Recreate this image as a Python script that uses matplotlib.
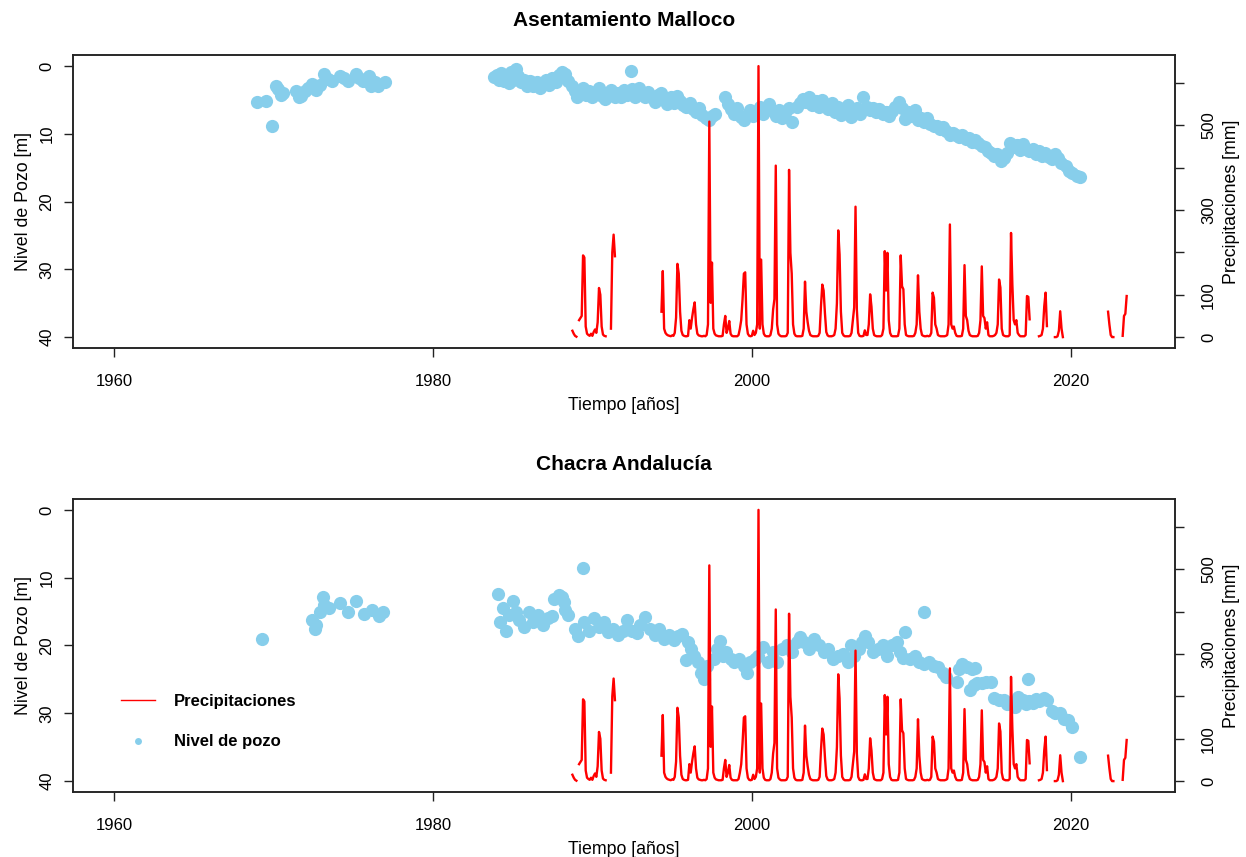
import numpy as np
import matplotlib
matplotlib.use("Agg")
import matplotlib.pyplot as plt
from matplotlib.lines import Line2D

plt.rcParams['font.family'] = ['Liberation Sans', 'DejaVu Sans']

nan = np.nan

# precipitacion mensual [mm], desde enero 1988 (12 valores por año)
precip_inicio = 1988
precip_mm = [
    nan, nan, nan, nan, nan, nan, nan, nan, nan, 15, 8, 3,        # 1988
    1, nan, 40, 45, 50, 193, 188, 25, 8, 5, 3, 8,                # 1989
    3, 12, 18, 10, 35, 116, 100, 25, 6, 3, 2, nan,               # 1990
    nan, nan, 20, 200, 242, 191, nan, nan, nan, nan, nan, nan,   # 1991
    nan, nan, nan, nan, nan, nan, nan, nan, nan, nan, nan, nan,  # 1992
    nan, nan, nan, nan, nan, nan, nan, nan, nan, nan, nan, nan,  # 1993
    nan, nan, nan, nan, 60, 156, 20, 10, 6, 4, 3, 2,             # 1994
    4, 3, 10, 46, 173, 150, 60, 15, 5, 3, 2, 2,                  # 1995
    3, 40, 20, 45, 66, 82, 30, 8, 4, 3, 2, 2,                    # 1996
    3, 2, 5, 30, 509, 81, 176, 20, 8, 4, 3, 2,                   # 1997
    2, 2, 3, 30, 50, 10, 20, 38, 8, 3, 2, 2,                     # 1998
    2, 2, 5, 20, 40, 89, 150, 153, 30, 8, 3, 2,                  # 1999
    3, 15, 5, 10, 30, 640, 20, 183, 30, 8, 3, 2,                 # 2000
    2, 2, 5, 20, 65, 90, 405, 30, 8, 4, 2, 2,                    # 2001
    2, 2, 3, 10, 395, 199, 150, 30, 8, 3, 2, 2,                  # 2002
    2, 2, 3, 20, 131, 60, 35, 15, 5, 3, 2, 2,                    # 2003
    2, 2, 3, 10, 73, 124, 110, 56, 12, 4, 2, 2,                  # 2004
    2, 3, 5, 20, 80, 252, 195, 60, 10, 4, 2, 2,                  # 2005
    2, 2, 3, 10, 40, 70, 308, 65, 10, 3, 2, 2,                   # 2006
    3, 16, 5, 5, 30, 101, 72, 20, 5, 3, 2, 2,                    # 2007
    2, 2, 5, 20, 203, 110, 199, 40, 10, 3, 2, 2,                 # 2008
    2, 2, 3, 20, 193, 120, 113, 30, 5, 3, 2, 2,                  # 2009
    2, 2, 3, 10, 30, 146, 60, 20, 5, 3, 2, 2,                    # 2010
    3, 2, 3, 10, 105, 93, 30, 20, 5, 3, 2, 2,                    # 2011
    2, 2, 3, 5, 30, 266, 30, 20, 25, 10, 3, 2,                   # 2012
    2, 2, 3, 20, 170, 50, 40, 15, 5, 3, 2, 2,                    # 2013
    2, 2, 3, 10, 40, 167, 50, 45, 20, 35, 5, 2,                  # 2014
    2, 2, 3, 5, 10, 30, 136, 117, 20, 5, 3, 2,                   # 2015
    2, 2, 5, 246, 124, 40, 30, 40, 10, 5, 2, 2,                  # 2016
    2, 2, 5, 97, 95, 42, nan, nan, nan, nan, nan, nan,           # 2017
    2, 3, 5, 20, 73, 105, 26, nan, nan, nan, nan, nan,           # 2018
    0, 0, 2, 15, 61, 20, 0, nan, nan, nan, nan, nan,             # 2019
    nan, nan, nan, nan, nan, nan, nan, nan, nan, nan, nan, nan,  # 2020
    nan, nan, nan, nan, nan, nan, nan, nan, nan, nan, nan, nan,  # 2021
    nan, nan, nan, nan, 60, 30, 5, 0, 0, nan, nan, nan,          # 2022
    nan, nan, nan, 3, 50, 55, 97, nan, nan, nan, nan, nan,       # 2023
]

# Asentamiento Malloco: fecha [años], nivel [m]
malloco_t = [1969.0, 1969.55, 1969.9, 1970.15, 1970.3, 1970.45, 1970.6,
             1971.45, 1971.6, 1971.75, 1972.0, 1972.2, 1972.45, 1972.7, 1972.9,
             1973.2, 1973.45, 1973.7, 1974.15, 1974.4, 1974.65, 1975.2, 1975.4,
             1975.6, 1976.0, 1976.1, 1976.35, 1976.55, 1976.97,
             1983.85, 1984.0, 1984.15, 1984.3, 1984.45, 1984.6, 1984.75, 1984.9,
             1985.05, 1985.2, 1985.35, 1985.5, 1985.7, 1985.9, 1986.1, 1986.3,
             1986.5, 1986.7, 1986.9, 1987.1, 1987.3, 1987.5, 1987.7, 1987.9,
             1988.1, 1988.3, 1988.5, 1988.7, 1988.9, 1989.05, 1989.2, 1989.4,
             1989.6, 1989.8, 1990.0, 1990.2, 1990.4, 1990.6, 1990.8, 1991.0,
             1991.2, 1991.4, 1991.6, 1991.8, 1992.0, 1992.2, 1992.4, 1992.5,
             1992.7, 1992.9, 1993.1, 1993.3, 1993.5, 1993.7, 1993.9, 1994.1,
             1994.3, 1994.5, 1994.7, 1994.9, 1995.1, 1995.3, 1995.5, 1995.7,
             1995.9, 1996.1, 1996.3, 1996.5, 1996.7, 1996.9, 1997.1, 1997.3,
             1997.5, 1997.7, 1998.3, 1998.5, 1998.7, 1998.9, 1999.1, 1999.3,
             1999.5, 1999.7, 1999.9, 2000.1, 2000.3, 2000.5, 2000.7, 2000.9,
             2001.1, 2001.3, 2001.5, 2001.7, 2001.9, 2002.1, 2002.3, 2002.5,
             2002.8, 2003.0, 2003.2, 2003.4, 2003.6, 2003.8, 2004.0, 2004.2,
             2004.4, 2004.6, 2004.8, 2005.0, 2005.2, 2005.4, 2005.6, 2005.8,
             2006.0, 2006.2, 2006.4, 2006.6, 2006.8, 2007.0, 2007.2, 2007.4,
             2007.6, 2007.8, 2008.0, 2008.2, 2008.4, 2008.6, 2008.8, 2009.0,
             2009.2, 2009.4, 2009.6, 2009.8, 2010.0, 2010.2, 2010.4, 2010.6,
             2010.8, 2011.0, 2011.2, 2011.4, 2011.6, 2011.8, 2012.0, 2012.2,
             2012.4, 2012.6, 2012.8, 2013.0, 2013.2, 2013.4, 2013.6, 2013.8,
             2014.0, 2014.2, 2014.4, 2014.6, 2014.8, 2015.0, 2015.2, 2015.4,
             2015.6, 2015.8, 2016.0, 2016.2, 2016.4, 2016.6, 2016.8, 2017.0,
             2017.2, 2017.4, 2017.6, 2017.8, 2018.0, 2018.2, 2018.4, 2018.6,
             2018.8, 2019.0, 2019.2, 2019.4, 2019.7, 2019.9, 2020.1, 2020.4,
             2020.6]
malloco_nivel = [5.3, 5.2, 8.9, 3.0, 3.4, 4.2, 3.9,
                 3.7, 4.6, 4.4, 3.6, 3.2, 2.6, 3.5, 2.8,
                 1.2, 1.9, 2.2, 1.5, 1.8, 2.2, 1.2, 1.7,
                 2.2, 1.5, 2.9, 2.4, 3.0, 2.3,
                 1.6, 1.3, 2.0, 1.0, 2.2, 1.5, 2.5, 0.9,
                 2.0, 0.4, 1.4, 2.4, 2.0, 2.9, 2.2, 3.0,
                 2.4, 3.3, 2.6, 2.0, 2.8, 1.8, 2.3, 1.3,
                 0.9, 1.2, 2.2, 2.9, 3.6, 4.5, 3.8, 3.3,
                 4.2, 3.6, 4.6, 3.8, 3.2, 4.4, 4.9, 4.0,
                 3.5, 4.6, 3.9, 4.5, 3.5, 4.2, 0.7, 3.4,
                 4.5, 3.2, 4.0, 4.6, 3.8, 4.5, 5.3, 4.3,
                 3.9, 5.0, 5.6, 4.6, 5.4, 4.4, 5.1, 5.8,
                 6.0, 5.4, 6.3, 6.8, 6.2, 7.2, 7.7, 7.9,
                 7.3, 7.0, 4.6, 5.6, 6.4, 7.0, 6.2, 7.5,
                 7.9, 7.2, 6.5, 7.4, 6.8, 6.0, 7.0, 6.2,
                 5.6, 6.6, 7.3, 6.5, 7.6, 6.9, 6.2, 8.3,
                 6.0, 5.5, 4.8, 5.3, 4.6, 5.8, 5.2, 6.0,
                 5.0, 5.7, 6.3, 5.5, 6.8, 6.0, 7.2, 6.5,
                 5.7, 7.5, 6.8, 6.2, 7.0, 4.5, 6.0, 6.5,
                 6.2, 6.8, 6.4, 7.0, 6.7, 7.3, 6.6, 6.0,
                 5.3, 6.2, 7.8, 6.8, 7.3, 6.5, 8.0, 7.6,
                 8.2, 7.7, 8.5, 8.8, 8.9, 9.3, 9.0, 9.6,
                 10.1, 9.8, 10.2, 10.5, 10.2, 10.8, 10.6, 11.2,
                 10.9, 11.4, 11.8, 12.0, 12.5, 12.8, 13.2, 13.0,
                 14.0, 13.5, 12.8, 11.3, 12.0, 11.6, 12.4, 11.5,
                 12.2, 12.6, 12.3, 12.9, 12.6, 13.2, 12.8, 13.4,
                 13.7, 12.9, 13.6, 14.3, 14.8, 15.5, 15.8, 16.2,
                 16.4]

# Chacra Andalucía: fecha [años], nivel [m]
andalucia_t = [1969.3,
               1972.4, 1972.6, 1972.7, 1972.9, 1973.1, 1973.2, 1973.5, 1974.15,
               1974.7, 1975.2, 1975.7, 1976.2, 1976.65, 1976.85,
               1984.07, 1984.2, 1984.4, 1984.6, 1984.8, 1985.0, 1985.2, 1985.4,
               1985.7, 1986.0, 1986.3, 1986.6, 1986.9, 1987.2, 1987.5, 1987.6,
               1987.9, 1988.1, 1988.2, 1988.3, 1988.5, 1988.9, 1989.1, 1989.4,
               1989.5, 1989.8, 1990.1, 1990.4, 1990.7, 1991.0, 1991.3, 1991.6,
               1991.9, 1992.2, 1992.5, 1992.8, 1993.0, 1993.3, 1993.6, 1993.9,
               1994.2, 1994.5, 1994.8, 1995.1, 1995.4, 1995.6, 1995.9, 1996.0,
               1996.2, 1996.4, 1996.6, 1996.8, 1997.0, 1997.2, 1997.6, 1997.8,
               1998.0, 1998.2, 1998.4, 1998.7, 1998.9, 1999.2, 1999.5, 1999.7,
               1999.9, 2000.2, 2000.4, 2000.7, 2001.0, 2001.3, 2001.6, 2001.9,
               2002.2, 2002.5, 2002.8, 2003.0, 2003.3, 2003.6, 2003.9, 2004.2,
               2004.5, 2004.8, 2005.1, 2005.4, 2005.7, 2006.0, 2006.2, 2006.4,
               2006.7, 2006.9, 2007.1, 2007.3, 2007.6, 2007.9, 2008.2, 2008.5,
               2008.8, 2009.1, 2009.3, 2009.5, 2009.6, 2009.9, 2010.2, 2010.5,
               2010.8, 2010.8, 2011.1, 2011.4, 2011.7, 2012.0, 2012.2, 2012.85,
               2013.0, 2013.2, 2013.5, 2013.7, 2013.8, 2013.9, 2014.0, 2014.1,
               2014.4, 2014.7, 2015.0, 2015.2, 2015.5, 2015.8, 2016.0, 2016.3,
               2016.5, 2016.7, 2017.0, 2017.2, 2017.3, 2017.4, 2017.6, 2017.8,
               2018.0, 2018.3, 2018.5, 2018.8, 2019.0, 2019.3, 2019.6, 2019.8,
               2020.1, 2020.6]
andalucia_nivel = [19.1,
                   16.2, 17.5, 17.0, 15.0, 12.8, 14.0, 14.5, 13.8,
                   15.0, 13.4, 15.3, 14.7, 15.7, 15.0,
                   12.4, 16.6, 14.5, 17.8, 15.5, 13.5, 15.0, 16.2,
                   17.2, 15.0, 16.5, 15.5, 17.0, 16.0, 15.7, 13.2,
                   12.6, 12.8, 13.6, 14.8, 15.5, 17.5, 18.6, 8.6,
                   16.5, 17.8, 16.0, 17.2, 16.5, 18.0, 17.5, 18.5,
                   17.8, 16.2, 17.8, 18.2, 17.0, 15.8, 17.5, 18.5,
                   17.5, 19.0, 18.5, 19.2, 18.6, 18.3, 22.2, 19.5,
                   20.5, 21.5, 22.5, 24.0, 24.9, 23.0, 22.0, 20.5,
                   19.3, 21.5, 21.0, 22.0, 22.5, 22.0, 23.0, 24.0,
                   22.5, 22.0, 21.5, 20.2, 22.5, 21.0, 22.5, 20.5,
                   20.0, 21.0, 19.5, 18.8, 19.5, 20.5, 19.0, 20.0,
                   21.0, 20.5, 22.0, 21.5, 21.2, 22.4, 20.0, 21.5,
                   20.5, 19.5, 18.6, 19.5, 21.0, 20.5, 20.0, 21.5,
                   20.0, 19.5, 21.0, 21.8, 18.0, 22.0, 21.5, 22.5,
                   22.8, 15.0, 22.5, 23.0, 23.2, 24.0, 24.6, 25.4,
                   23.5, 22.8, 23.2, 26.5, 23.5, 25.8, 23.3, 25.6,
                   25.5, 25.4, 25.4, 27.7, 28.0, 28.1, 28.6, 28.3,
                   29.0, 27.6, 28.0, 28.6, 25.0, 28.2, 28.5, 27.9,
                   28.2, 27.8, 28.0, 29.6, 29.9, 30.0, 30.8, 31.0,
                   32.0, 36.4]

titulos = ["Asentamiento Malloco", "Chacra Andalucía"]
pozos = [(malloco_t, malloco_nivel), (andalucia_t, andalucia_nivel)]

precip_t = precip_inicio + np.arange(len(precip_mm)) / 12.0
precip_mm = np.array(precip_mm, dtype=float)

fig = plt.figure(figsize=(12.46, 8.57), dpi=100)
rects = [[0.0586, 0.594, 0.8848, 0.3415], [0.0586, 0.0759, 0.8848, 0.3418]]
celeste = "#87CEEB"
gris = "#222222"

for i in range(2):
    ax = fig.add_axes(rects[i])
    t, niv = pozos[i]
    ax.plot(t, niv, "o", color=celeste, markersize=9.5, markeredgewidth=0)
    ax.set_xlim(1957.44, 2026.56)
    ax.set_ylim(41.6, -1.6)
    ax.set_xticks([1960, 1980, 2000, 2020])
    ax.set_yticks([0, 10, 20, 30, 40])
    ax.set_yticklabels(["0", "10", "20", "30", "40"], rotation=90, va="center")
    ax.tick_params(labelsize=12, length=6.5, width=1, color=gris)
    ax.tick_params(axis="x", pad=12)
    ax.tick_params(axis="y", pad=7)
    ax.set_xlabel("Tiempo [años]", fontsize=12.8, labelpad=6)
    ax.set_ylabel("Nivel de Pozo [m]", fontsize=12.8, labelpad=5)
    ax.set_title(titulos[i], fontsize=15, fontweight="bold", pad=21)
    for s in ax.spines.values():
        s.set_color(gris)
        s.set_linewidth(1.1)

    ax2 = ax.twinx()
    ax2.plot(precip_t, precip_mm, color="red", linewidth=1.7)
    ax2.set_ylim(-25.6, 665.6)
    ax2.set_yticks([0, 100, 200, 300, 400, 500, 600])
    ax2.set_yticklabels(["0", "100", "", "300", "", "500", ""], rotation=90, va="center")
    ax2.tick_params(labelsize=12, length=6.5, width=1, color=gris, pad=12)
    ax2.set_ylabel("Precipitaciones [mm]", fontsize=12.8, labelpad=5)
    for s in ax2.spines.values():
        s.set_color(gris)
        s.set_linewidth(1.1)

    if i == 1:
        handles = [Line2D([], [], color="red", linewidth=1),
                   Line2D([], [], marker="o", linestyle="", color=celeste,
                          markersize=5, markeredgewidth=0)]
        leg = ax.legend(handles, ["Precipitaciones", "Nivel de pozo"],
                        loc="upper left", bbox_to_anchor=(0.030, 0.387),
                        frameon=False, handlelength=2.05, handletextpad=1.1,
                        labelspacing=1.55, prop={"weight": "bold", "size": 12})

fig.savefig("out.png", dpi=100)
